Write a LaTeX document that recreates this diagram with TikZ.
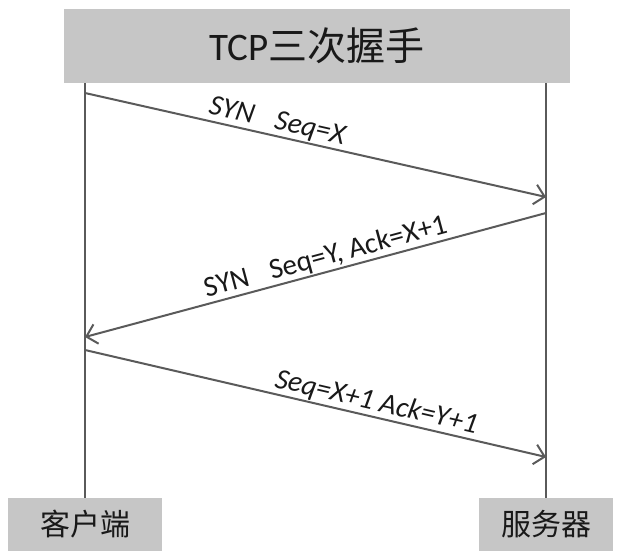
\documentclass[tikz,border=0pt]{standalone}
\usepackage{fontspec}
\setmainfont{Carlito}
\newfontfamily\cjk{Noto Sans CJK SC}
\usetikzlibrary{arrows.meta}
\definecolor{boxgray}{HTML}{C6C6C6}
\definecolor{linegray}{HTML}{5A5A5A}

\begin{document}
\begin{tikzpicture}[x=1pt, y=-1pt,
  box/.style={fill=boxgray, inner sep=0pt, text=black!90},
  life/.style={linegray, line width=2pt},
  msg/.style={linegray, line width=2pt, -{Straight Barb[length=10pt, width=20pt]}},
  lbl/.style={sloped, above, inner sep=1pt, text=black!90, font=\fontsize{29}{32}\selectfont}]
\useasboundingbox (0,0) rectangle (621,551);

% header and the two ends
\node[box, minimum width=506pt, minimum height=74pt, font=\fontsize{39}{44}\selectfont] (title) at (317,46) {TCP{\cjk 三次握手}};
\node[box, minimum width=154pt, minimum height=53pt, font=\cjk\fontsize{30}{32}\selectfont] (client) at (85,524.5) {客户端};
\node[box, minimum width=134pt, minimum height=53pt, font=\cjk\fontsize{30}{32}\selectfont] (server) at (546,524.5) {服务器};

% lifelines
\draw[life] (title.south -| client) -- (client.north);
\draw[life] (title.south -| server) -- (server.north);

% message end points
\coordinate (c1) at (85,93);
\coordinate (s1) at (546,197);
\coordinate (s2) at (546,213);
\coordinate (c2) at (85,337);
\coordinate (c3) at (85,350);
\coordinate (s3) at (546,457);

\draw[msg] (c1) -- node[lbl, pos=0.41] {\itshape SYN\hspace{0.75em}Seq=X} (s1);
\draw[msg] (s2) -- node[lbl, pos=0.47] {SYN\hspace{0.75em}Seq=Y, Ack=X+1} (c2);
\draw[msg] (c3) -- node[lbl, pos=0.625] {\itshape Seq=X+1 Ack=Y+1} (s3);
\end{tikzpicture}
\end{document}
